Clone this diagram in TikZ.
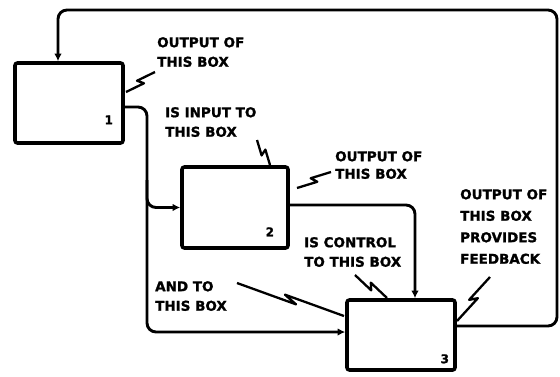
\documentclass[tikz,border=0pt]{standalone}
\usepackage{fontspec}
\setmainfont{DejaVu Sans}
\newfontfamily\notefont{DejaVu Sans Bold}[FakeBold=1.3]
\usepackage{tikz}
\usetikzlibrary{arrows.meta,positioning,calc}

% lightning-style pointer from a note to a line or box
\newcommand{\zap}[2]{\draw[zapline] (#1) -- ($(#1)!.56!(#2)!3pt!-90:(#2)$) -- ($(#1)!.44!(#2)!3pt!90:(#2)$) -- (#2);}

\begin{document}
\begin{tikzpicture}[x=1pt,y=-1pt,
  fbox/.style={draw,line width=3.6pt,rounded corners=2.5pt,inner sep=0pt},
  flow/.style={line width=2.9pt,rounded corners=9pt,-{Latex[length=7.5pt,width=7.5pt]}},
  zapline/.style={line width=2.3pt,line join=round},
  note/.style={font=\notefont\fontsize{13.5}{19.5}\selectfont,align=left,anchor=north west,inner sep=0pt},
  num/.style={font=\notefont\fontsize{12}{12}\selectfont,inner sep=0pt}]
  \useasboundingbox (0,0) rectangle (560,376);
  % boxes
  \node[fbox,minimum width=108pt,minimum height=80pt] (b1) at (69,103) {};
  \node[fbox,minimum width=106pt,minimum height=81pt] (b2) at (235,207.5) {};
  \node[fbox,minimum width=108pt,minimum height=70pt] (b3) at (401,335) {};
  \node[num] (n1) at ([xshift=-16pt,yshift=25pt]b1.south east) {1};
  \node[num] (n2) at ([xshift=-20pt,yshift=18pt]b2.south east) {2};
  \node[num] (n3) at ([xshift=-12pt,yshift=13pt]b3.south east) {3};
  % arrows between boxes
  \coordinate (fbr) at (557,10);
  \coordinate (j1) at (147,332);
  \coordinate (j2) at (147,180);
  \draw[flow] ([yshift=9pt]b3.east) -| (fbr) -| ([xshift=-11pt]b1.north);
  \draw[flow] ([yshift=-4pt]b1.east) -| (j1) -- ([yshift=3pt]b3.west);
  \draw[flow] (j2) |- (b2.west);
  \draw[flow] ([yshift=2.5pt]b2.east) -| ([xshift=14pt]b3.north);
  % notes
  \node[note] (t1) at (157,37) {OUTPUT OF\\THIS BOX};
  \node[note] (t2) at (165,107) {IS INPUT TO\\THIS BOX};
  \node[note,font=\notefont\fontsize{13.5}{17.5}\selectfont] (t3) at (335,151) {OUTPUT OF\\THIS BOX};
  \node[note] (t4) at (304,237) {IS CONTROL\\TO THIS BOX};
  \node[note,font=\notefont\fontsize{13.5}{21.5}\selectfont] (t5) at (460,189) {OUTPUT OF\\THIS BOX\\PROVIDES\\FEEDBACK};
  \node[note] (t6) at (155,281) {AND TO\\THIS BOX};
  % pointers
  \coordinate (z1a) at (126,92);  \coordinate (z1b) at (155,72);
  \coordinate (z2a) at (257,140); \coordinate (z2b) at (270,165);
  \coordinate (z3a) at (297,188); \coordinate (z3b) at (331,172);
  \coordinate (z4a) at (355,275); \coordinate (z4b) at (387,298);
  \coordinate (z5a) at (457,321); \coordinate (z5b) at (490,277);
  \coordinate (z6a) at (237,283); \coordinate (z6b) at (344,316);
  \zap{z1a}{z1b}
  \zap{z2a}{z2b}
  \zap{z3a}{z3b}
  \zap{z4a}{z4b}
  \zap{z5a}{z5b}
  \zap{z6a}{z6b}
\end{tikzpicture}
\end{document}
